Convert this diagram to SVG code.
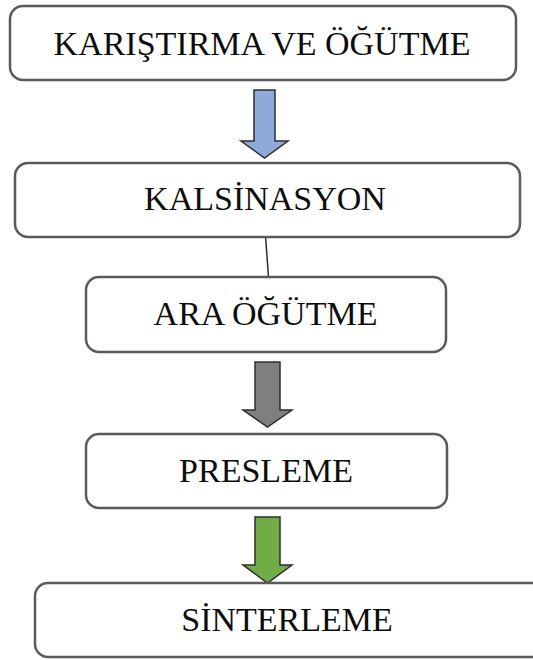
<svg xmlns="http://www.w3.org/2000/svg" width="533" height="660" viewBox="0 0 533 660">
<style>
.box{fill:#ffffff;stroke:#5a5a5a;stroke-width:2.5}
.lbl{font-family:"Liberation Serif","Times New Roman",serif;font-size:34px;fill:#0d0d0d;text-anchor:middle}
.arr{stroke:#2e2e2e;stroke-width:1.5;stroke-linejoin:miter}
</style>
<rect width="533" height="660" fill="#ffffff"/>
<g id="connectors">
<path class="arr" fill="#8eaadb" d="M254,90 H275 V141 H288 L264.5,158 L241,141 H254 Z"/>
<line x1="265.5" y1="236" x2="268.5" y2="277" stroke="#2e2e2e" stroke-width="1.5"/>
<path class="arr" fill="#7f7f7f" d="M255,362 H280 V410 H292 L267.5,427 L243,410 H255 Z"/>
<path class="arr" fill="#70ad47" d="M255,517 H280 V565 H292 L267.5,583 L243,565 H255 Z"/>
</g>
<g id="n1">
<rect class="box" x="10" y="6" width="506" height="74" rx="13"/>
<text class="lbl" x="262" y="55">KARIŞTIRMA VE ÖĞÜTME</text>
</g>
<g id="n2">
<rect class="box" x="15" y="163" width="505" height="74" rx="13"/>
<text class="lbl" x="265" y="210">KALSİNASYON</text>
</g>
<g id="n3">
<rect class="box" x="86" y="277" width="360" height="75" rx="13"/>
<text class="lbl" x="265.5" y="325">ARA ÖĞÜTME</text>
</g>
<g id="n4">
<rect class="box" x="86" y="434" width="361" height="74" rx="13"/>
<text class="lbl" x="266" y="482">PRESLEME</text>
</g>
<g id="n5">
<rect class="box" x="35" y="583" width="510" height="74" rx="13"/>
<text class="lbl" x="287" y="631">SİNTERLEME</text>
</g>
</svg>
